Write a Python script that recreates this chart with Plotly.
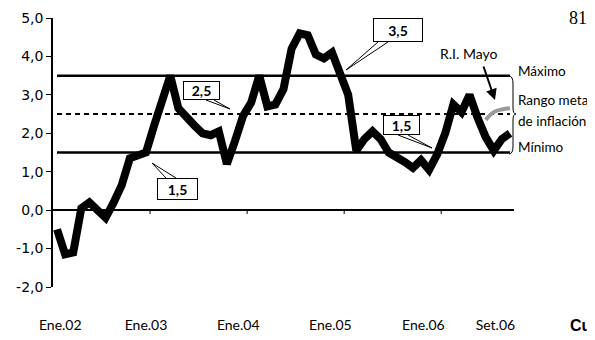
import plotly.graph_objects as go

# ---------------- data ----------------
months = list(range(57))  # Ene.02 ... Set.06 (index)
inflation = [-0.5, -1.15, -1.1, 0.05, 0.2, 0.0, -0.2, 0.2, 0.65, 1.35, 1.45, 1.5,
             2.2, 2.85, 3.5, 2.65, 2.4, 2.2, 2.0, 1.95, 2.05, 1.2, 1.8, 2.45,
             2.8, 3.5, 2.7, 2.75, 3.15, 4.2, 4.6, 4.55, 4.05, 3.95, 4.1, 3.5,
             3.0, 1.55, 1.85, 2.05, 1.85, 1.5, 1.4, 1.25, 1.1, 1.3, 1.05, 1.45,
             2.0, 2.75, 2.55, 3.0, 2.4, 1.9, 1.55, 1.85, 2.0]
ri_months = [53, 54, 55, 56]
ri_mayo = [2.35, 2.55, 2.62, 2.65]
maximo = 3.5
meta = 2.5
minimo = 1.5
x_tick_labels = ["Ene.02", "Ene.03", "Ene.04", "Ene.05", "Ene.06", "Set.06"]
x_tick_pos = [0.4, 11.0, 22.4, 33.8, 45.3, 54.2]
y_tick_vals = [-2, -1, 0, 1, 2, 3, 4, 5]
y_tick_labels = ["-2,0", "-1,0", "0,0", "1,0", "2,0", "3,0", "4,0", "5,0"]
year_bounds = [11.5, 23.5, 35.5, 47.5]

# ---------------- layout geometry ----------------
OFF = 8  # default page body margin of the html page
W, H = 595 - OFF, 340 - OFF
L, R, T, B = 53, 514, 18, 287  # plot area in screen pixels
XMIN, XMAX = -0.5, 56.5
YMIN, YMAX = -2, 5


def dx(px):
    return XMIN + (px - L) / (R - L) * (XMAX - XMIN)


def dy(py):
    return YMAX - (py - T) / (B - T) * (YMAX - YMIN)


def px_paper(px):
    return (px - L) / (R - L)


def py_paper(py):
    return (B - py) / (B - T)


NARROW = "Lato, Roboto, sans-serif"

fig = go.Figure()
first, last = months[0], months[-1]
fig.add_trace(go.Scatter(x=[first, last], y=[maximo, maximo], mode="lines",
                         line=dict(color="black", width=2.5), hoverinfo="skip"))
fig.add_trace(go.Scatter(x=[first, last], y=[minimo, minimo], mode="lines",
                         line=dict(color="black", width=2.5), hoverinfo="skip"))
fig.add_trace(go.Scatter(x=[first, last], y=[meta, meta], mode="lines",
                         line=dict(color="black", width=2, dash="5px,4px"), hoverinfo="skip"))
fig.add_trace(go.Scatter(x=ri_months, y=ri_mayo, mode="lines",
                         line=dict(color="#9a9a9a", width=4, shape="spline"), hoverinfo="skip"))
fig.add_trace(go.Scatter(x=months, y=inflation, mode="lines",
                         line=dict(color="black", width=8), hoverinfo="skip"))

shapes = []
# year tick marks on zero line
for b in year_bounds:
    shapes.append(dict(type="line", xref="x", yref="y", x0=b, x1=b, y0=0, y1=dy(214),
                       line=dict(color="black", width=1)))

# callout wedges: (box edge point a, tip, box edge point b)
wedges = [
    ((378, 42), (346, 70), (388, 42)),
    ((206, 100), (230, 109), (214, 100)),
    ((166, 178), (152, 163), (176, 178)),
    ((398, 135), (432, 148), (408, 135)),
]
for a, tip, b in wedges:
    path = f"M {dx(a[0])},{dy(a[1])} L {dx(tip[0])},{dy(tip[1])} L {dx(b[0])},{dy(b[1])}"
    shapes.append(dict(type="path", xref="x", yref="y", path=path,
                       line=dict(color="black", width=1)))

# right-side brace
bx0 = px_paper(509)
bx1 = px_paper(513)
bx2 = px_paper(516)
ytop, ymid, ybot = py_paper(76), py_paper(114), py_paper(154)
brace = (f"M {bx0},{ytop} Q {bx1},{ytop} {bx1},{py_paper(84)} L {bx1},{py_paper(108)} "
         f"Q {bx1},{ymid} {bx2},{ymid} Q {bx1},{ymid} {bx1},{py_paper(120)} "
         f"L {bx1},{py_paper(146)} Q {bx1},{ybot} {bx0},{ybot}")
shapes.append(dict(type="path", xref="paper", yref="paper", path=brace,
                   line=dict(color="black", width=1)))

annotations = []
boxes = [
    ("3,5", 398, 30, 46, 20),
    ("2,5", 201.5, 90.5, 33, 15),
    ("1,5", 177.5, 189, 37, 18),
    ("1,5", 401.5, 125, 33, 16),
]
for txt, cx, cy, w, h in boxes:
    annotations.append(dict(x=dx(cx), y=dy(cy), xref="x", yref="y", text=f"<b>{txt}</b>",
                            showarrow=False, width=w, height=h, borderpad=1,
                            bordercolor="black", borderwidth=1, bgcolor="white",
                            font=dict(family=NARROW, size=14, color="black")))

# R.I. Mayo label and arrow
annotations.append(dict(x=dx(468), y=dy(53), xref="x", yref="y", text="R.I. Mayo",
                        showarrow=False, font=dict(family=NARROW, size=14, color="black")))
annotations.append(dict(x=dx(495), y=dy(100), xref="x", yref="y", text="", showarrow=True,
                        ax=-12, ay=-35, arrowhead=2, arrowsize=1.1, arrowwidth=2,
                        arrowcolor="black"))

# right labels
for txt, py in [("Máximo", 71), ("Rango meta", 100), ("de inflación", 121), ("Mínimo", 147)]:
    annotations.append(dict(x=px_paper(516), y=py_paper(py), xref="paper", yref="paper",
                            text=txt, showarrow=False, xanchor="left", yanchor="middle",
                            font=dict(family=NARROW, size=13.5, color="black")))

# page number and cut heading
annotations.append(dict(x=px_paper(567), y=py_paper(18), xref="paper", yref="paper",
                        text="81", showarrow=False, xanchor="left", yanchor="middle",
                        font=dict(family="Liberation Serif, DejaVu Serif, serif", size=18,
                                  color="black")))
annotations.append(dict(x=px_paper(568), y=py_paper(325), xref="paper", yref="paper",
                        text="<b>Cu</b>", showarrow=False, xanchor="left", yanchor="middle",
                        font=dict(family="Liberation Sans, Arial, sans-serif", size=16,
                                  color="black")))

fig.update_layout(
    width=W, height=H,
    margin=dict(l=L - OFF, r=595 - R, t=T - OFF, b=340 - B, pad=0, autoexpand=False),
    paper_bgcolor="white", plot_bgcolor="white",
    showlegend=False,
    shapes=shapes,
    annotations=annotations,
    xaxis=dict(range=[XMIN, XMAX], showgrid=False, zeroline=False, showline=False,
               automargin=False,
               ticks="", tickmode="array", tickvals=x_tick_pos, ticktext=x_tick_labels,
               ticklabelstandoff=28,
               tickfont=dict(family=NARROW, size=14, color="black")),
    yaxis=dict(range=[YMIN, YMAX], showgrid=False, zeroline=True, zerolinecolor="black",
               zerolinewidth=2, showline=True, linecolor="black", linewidth=1.5,
               automargin=False,
               ticks="outside", ticklen=5, tickcolor="black", tickwidth=1,
               tickmode="array", tickvals=y_tick_vals, ticktext=y_tick_labels,
               tickfont=dict(family="DejaVu Sans, Verdana, sans-serif", size=14,
                             color="black")),
)

fig.write_html("out.html")
